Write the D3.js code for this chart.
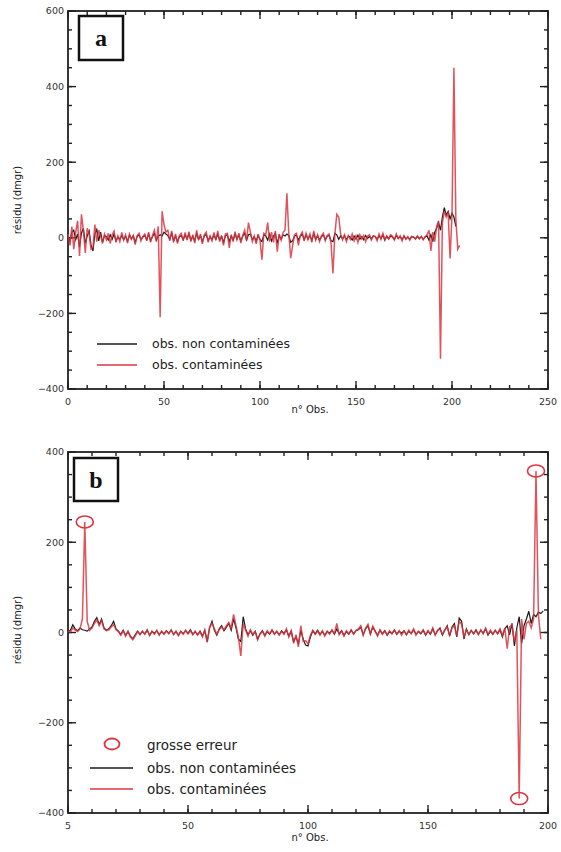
<!DOCTYPE html>
<html><head><meta charset="utf-8">
<script src="https://cdn.jsdelivr.net/npm/d3@7"></script>
<style>
html,body{margin:0;padding:0;background:#fff;}
svg{display:block;}
</style></head>
<body>
<svg id="chart" width="561" height="852"></svg>
<script>
// ---------- DATA ----------
const aBlack = [
 5,-10,15,20,-5,10,-25,12,25,-15,5,18,-20,-35,10,22,-8,15,-12,6,
 3,-6,8,-4,10,-8,2,-3,6,-5,4,-9,7,-2,5,-12,3,8,-4,2,
 6,-5,10,-7,3,12,-6,4,8,5,15,10,6,-4,12,-8,5,-10,3,6,
 -5,8,-3,10,-6,4,-8,12,-4,6,-10,5,9,-7,3,-5,8,-4,10,-6,
 4,-12,6,8,-10,5,-6,10,-3,7,-8,4,12,-6,8,10,-5,3,-9,6,
 -4,-10,8,5,-6,10,-8,4,12,-15,6,-4,8,5,10,6,-12,-8,5,7,
 -6,4,10,-5,8,-3,6,-7,12,-4,5,-6,3,8,-5,4,6,-8,-10,12,
 8,-4,5,-3,6,-5,4,2,-6,5,-3,7,-4,3,-5,6,-2,4,-3,5,
 3,-4,6,-2,8,-6,4,-3,5,2,-4,6,-2,3,-5,4,-3,2,-4,3,
 2,-3,4,-2,3,-4,2,5,-6,8,-10,15,25,40,20,55,80,60,70,50,
 65,55,30
];
const aRed = [
 10,-20,30,-30,15,45,-48,62,20,-40,25,10,-30,-25,35,-10,20,5,-15,10,
 -5,12,-15,8,18,-12,5,-10,14,-6,8,-14,10,-4,6,-18,5,12,-8,4,
 10,-8,15,-12,6,20,-10,30,-210,70,35,15,20,-8,18,-12,10,-15,6,12,
 -8,14,-6,16,-10,8,-14,20,-6,10,-16,8,15,-12,5,-8,14,-6,18,-10,
 6,-20,10,12,-27,8,-10,16,-5,12,-14,6,20,-8,40,15,-10,5,-16,10,
 -6,-58,12,8,40,-10,15,-12,18,-37,10,-6,14,20,118,10,-54,-20,8,12,
 -20,6,15,-8,12,-5,10,-12,18,-6,8,-10,5,12,-8,6,10,-15,-94,10,
 62,55,10,-5,8,-10,6,-4,10,-8,5,-12,8,-3,6,-10,4,8,-6,5,
 4,-8,10,-4,12,-6,5,-3,8,4,-6,10,-2,5,-8,6,-4,3,-6,4,
 2,-4,5,-3,4,-5,3,8,20,-35,15,-10,30,45,-320,40,70,55,65,-55,
 60,450,50,-30,-20
];
const bBlack = [
 2,5,17,8,4,10,6,5,3,8,12,25,33,18,30,10,5,8,15,25,
 8,3,-4,5,-6,2,-8,-14,-5,3,-4,2,-3,5,-6,3,-2,4,-5,2,
 -3,4,-2,5,-4,2,-6,3,-3,4,-2,6,-4,2,-5,3,-8,4,-20,10,
 25,5,-6,8,15,4,12,20,5,30,10,-15,-20,35,8,-5,4,-6,3,-15,
 -3,4,-6,2,-4,5,-3,2,-5,4,-2,6,-8,3,-20,-10,-25,5,-15,-28,
 -30,-10,4,-3,5,-4,2,-6,3,-2,5,-4,8,-3,4,-6,2,-4,5,-3,
 4,6,12,-5,8,15,-4,12,3,-6,5,-3,4,-6,2,-3,5,-4,3,-2,
 4,-5,3,-2,6,-4,2,-3,5,-6,3,-4,8,-5,4,10,-6,5,15,-8,
 12,20,-10,32,25,-14,8,-5,4,-3,6,-4,5,-2,8,-6,3,-4,5,-3,
 6,-10,8,15,-5,20,-30,10,35,-25,15,30,47,20,40,35,45,42,48
];
const bRed = [
 3,2,10,5,2,8,30,245,25,5,10,20,28,15,26,8,4,6,12,18,
 6,2,-6,4,-8,3,-10,-16,-8,2,-5,3,-4,6,-7,2,-4,5,-6,3,
 -4,3,-3,6,-5,3,-7,2,-4,5,-3,4,-5,3,-6,2,-10,6,-22,12,
 20,8,-4,6,12,6,15,22,10,40,15,-10,-52,20,5,-8,6,-4,2,-16,
 -4,3,-8,4,-3,6,-4,3,-6,2,-4,8,-10,4,-24,-5,-32,15,-20,-18,
 -25,-6,5,-4,3,-6,4,-8,2,-4,6,-3,20,-5,3,-8,4,-3,6,-4,
 5,8,15,-6,10,18,-3,14,2,-8,6,-4,3,-5,4,-2,6,-3,4,-6,
 3,-4,5,-3,8,-6,3,-2,6,-5,4,-3,10,-6,5,8,-4,6,12,-6,
 10,15,-8,25,18,-10,6,-4,5,-2,4,-5,6,-3,10,-4,5,-3,4,-2,
 8,-6,10,-36,12,18,-20,5,-368,30,-15,20,25,10,30,358,40,-15
];
const grossObs = [7, 188, 195];
const grossVal = [245, -368, 358];

const xTicksA = [0, 50, 100, 150, 200, 250];
const xTickLabelsA = ["0", "50", "100", "150", "200", "250"];
const yTicksA = [-400, -200, 0, 200, 400, 600];
const xTicksB = [0, 50, 100, 150, 200];
const xTickLabelsB = ["5", "50", "100", "150", "200"];
const yTicksB = [-400, -200, 0, 200, 400];

const legendA = ["obs. non contaminées", "obs. contaminées"];
const legendB = ["grosse erreur", "obs. non contaminées", "obs. contaminées"];

// ---------- DRAW ----------
const RED = "#dc3540", BLK = "#1a1a1a";
const svg = d3.select("#chart");
const FONT = "'DejaVu Sans', sans-serif";

function panel(cfg) {
  const x = d3.scaleLinear().domain(cfg.xDom).range([cfg.left, cfg.right]);
  const y = d3.scaleLinear().domain(cfg.yDom).range([cfg.bottom, cfg.top]);
  const g = svg.append("g");

  const xMinor = d3.range(cfg.xDom[0], cfg.xDom[1] + 0.01, 10);
  const yMinor = d3.range(cfg.yDom[0], cfg.yDom[1] + 0.01, 50);

  // frame
  g.append("rect").attr("x", cfg.left).attr("y", cfg.top)
    .attr("width", cfg.right - cfg.left).attr("height", cfg.bottom - cfg.top)
    .attr("fill", "none").attr("stroke", "#222").attr("stroke-width", 1.8);

  // tick marks: thin rectangles, inward on all four sides
  const tickRects = [];
  function xt(vals, len) {
    vals.forEach(v => {
      tickRects.push([x(v) - 0.7, cfg.bottom - len, 1.4, len]);
      tickRects.push([x(v) - 0.7, cfg.top, 1.4, len]);
    });
  }
  function yt(vals, len) {
    vals.forEach(v => {
      tickRects.push([cfg.left, y(v) - 0.7, len, 1.4]);
      tickRects.push([cfg.right - len, y(v) - 0.7, len, 1.4]);
    });
  }
  xt(xMinor, 4); xt(cfg.xTicks, 8);
  yt(yMinor, 4); yt(cfg.yTicks, 8);
  g.selectAll("rect.tick").data(tickRects).enter().append("rect")
    .attr("class", "tick")
    .attr("x", d => d[0]).attr("y", d => d[1]).attr("width", d => d[2]).attr("height", d => d[3])
    .attr("fill", "#222");

  // tick labels
  g.selectAll("text.xl").data(cfg.xTicks).enter().append("text")
    .attr("x", d => x(d)).attr("y", cfg.bottom + 16).attr("text-anchor", "middle")
    .attr("font-family", FONT).attr("font-size", 9.5).attr("fill", "#333")
    .text((d, i) => cfg.xLabels[i]);
  g.selectAll("text.yl").data(cfg.yTicks).enter().append("text")
    .attr("x", cfg.left - 4).attr("y", d => y(d)).attr("dy", "0.35em").attr("text-anchor", "end")
    .attr("font-family", FONT).attr("font-size", 9.5).attr("fill", "#333")
    .text(d => d3.format("d")(d));

  const line = d3.line().x((d, i) => x(i)).y(d => y(d));
  g.append("path").datum(cfg.black).attr("d", line)
    .attr("fill", "none").attr("stroke", BLK).attr("stroke-width", 1.2);
  g.append("path").datum(cfg.red).attr("d", line)
    .attr("fill", "none").attr("stroke", RED).attr("stroke-width", 1.5).attr("stroke-opacity", 0.85);

  g.append("text").attr("x", (cfg.left + cfg.right) / 2 + 2).attr("y", cfg.xTitleY)
    .attr("text-anchor", "middle").attr("font-family", FONT).attr("font-size", 10)
    .attr("fill", "#222").text("n° Obs.");
  g.append("text").attr("transform", `translate(21,${cfg.yTitleC}) rotate(-90)`)
    .attr("text-anchor", "middle").attr("font-family", FONT).attr("font-size", 10)
    .attr("fill", "#222").text("résidu (dmgr)");

  const b = cfg.box;
  g.append("rect").attr("x", b[0]).attr("y", b[1]).attr("width", b[2]).attr("height", b[3])
    .attr("fill", "#fff").attr("stroke", "#111").attr("stroke-width", 2.5);
  g.append("text").attr("x", b[0] + b[2] / 2).attr("y", b[1] + b[3] / 2 + 8)
    .attr("text-anchor", "middle").attr("font-family", "'Liberation Serif', serif")
    .attr("font-weight", "bold").attr("font-size", 24).attr("fill", "#111").text(cfg.letter);
  return {x, y, g};
}

const pa = panel({xDom: [0, 250], yDom: [-400, 600], left: 68, right: 548, top: 11, bottom: 389,
  xTicks: xTicksA, xLabels: xTickLabelsA, yTicks: yTicksA, black: aBlack, red: aRed,
  xTitleY: 413, yTitleC: 200, box: [79, 16, 44, 44], letter: "a"});

const pb = panel({xDom: [0, 200], yDom: [-400, 400], left: 68, right: 548, top: 452, bottom: 813,
  xTicks: xTicksB, xLabels: xTickLabelsB, yTicks: yTicksB, black: bBlack, red: bRed,
  xTitleY: 841, yTitleC: 630, box: [74, 458, 44, 43], letter: "b"});

pb.g.selectAll("ellipse.ge").data(grossObs).enter().append("ellipse")
  .attr("cx", (d) => pb.x(d)).attr("cy", (d, i) => pb.y(grossVal[i]))
  .attr("rx", 8.5).attr("ry", 6).attr("fill", "none").attr("stroke", RED).attr("stroke-width", 1.6);

function legLine(g, x1, x2, yy, col) {
  g.append("line").attr("x1", x1).attr("x2", x2).attr("y1", yy).attr("y2", yy)
    .attr("stroke", col).attr("stroke-width", 1.5);
}
function legText(g, xx, yy, t, fs) {
  g.append("text").attr("x", xx).attr("y", yy).attr("dy", "0.35em")
    .attr("font-family", FONT).attr("font-size", fs).attr("fill", "#222").text(t);
}
legLine(pa.g, 97, 137, 344, BLK); legText(pa.g, 152, 344, legendA[0], 12.5);
legLine(pa.g, 97, 137, 365, RED); legText(pa.g, 152, 365, legendA[1], 12.5);

pb.g.append("ellipse").attr("cx", 112).attr("cy", 744).attr("rx", 7.5).attr("ry", 5.5)
  .attr("fill", "none").attr("stroke", RED).attr("stroke-width", 1.8);
legText(pb.g, 147, 745, legendB[0], 13.5);
legLine(pb.g, 90, 133, 768, BLK); legText(pb.g, 147, 768, legendB[1], 13.5);
legLine(pb.g, 90, 133, 789, RED); legText(pb.g, 147, 789, legendB[2], 13.5);
</script>
</body></html>
